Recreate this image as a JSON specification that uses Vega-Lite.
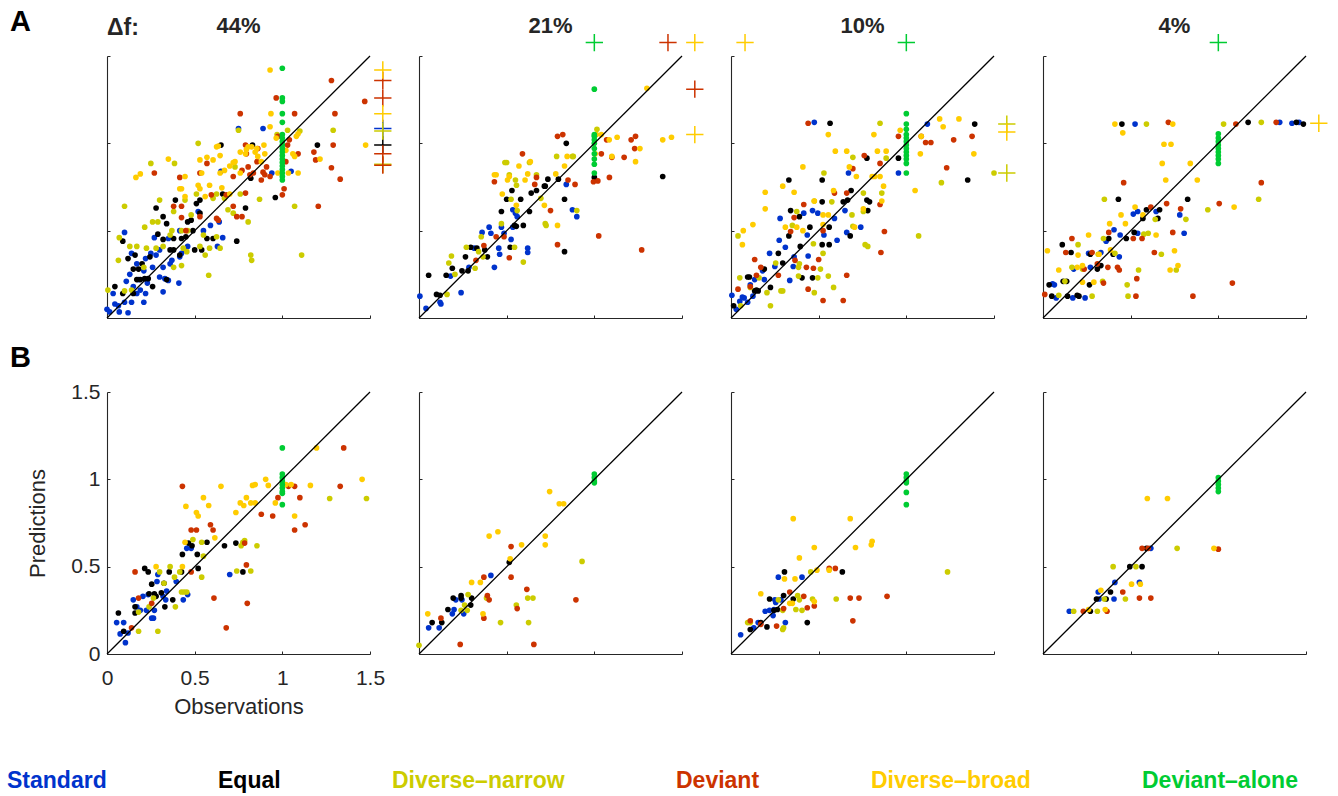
{
"$schema":"https://vega.github.io/schema/vega-lite/v6.json",
"background":"white",
"autosize":{"type":"none"},
"padding":{"left":107,"top":56,"right":1231,"bottom":740},
"bounds":"flush",
"columns":4,
"spacing":{"row":74,"column":49},
"config":{"view":{"stroke":null},"font":"Liberation Sans",
"axis":{"grid":false,"domainColor":"#262626","domainWidth":1.1,"tickColor":"#262626","tickWidth":1,"tickSize":-3,"labelColor":"#262626","labelFontSize":21,"labelFlush":false,"labelFont":"Liberation Sans","titleFont":"Liberation Sans","titleFontSize":22,"titleFontWeight":"normal","titleColor":"#262626","format":"~g"}},
"concat":[
{"width":263,"height":262,"data":{"name":"a1"},
"layer":[
{"transform":[{"filter":"datum.x<=1.5 && datum.y<=1.5"}],"mark":{"type":"circle","size":32,"opacity":1},"encoding":{
"x":{"field":"x","type":"quantitative","scale":{"domain":[0,1.5],"nice":false,"zero":false},"axis":{"values":[0,0.5,1,1.5],"labels":false,"title":null}},
"y":{"field":"y","type":"quantitative","scale":{"domain":[0,1.5],"nice":false,"zero":false},"axis":{"values":[0,0.5,1,1.5],"labels":false,"title":null}},
"color":{"field":"g","type":"nominal","scale":{"domain":["S","E","N","D","B","G"],"range":["#0033cc","#000000","#cccc00","#cc3300","#ffcc00","#00cc33"]},
"legend":{"orient":"none","legendX":-123,"legendY":713,"direction":"horizontal","title":null,"symbolSize":0,"symbolStrokeWidth":0,"symbolOpacity":0,"labelOffset":0,"columnPadding":88,"padding":0,"labelFont":"Liberation Sans","labelFontSize":23,"labelFontWeight":"bold","labelLimit":400,
"labelExpr":"{'S':'Standard','E':'Equal','N':'Diverse–narrow','D':'Deviant','B':'Diverse–broad','G':'Deviant–alone'}[datum.label]",
"encode":{"labels":{"update":{"fill":{"scale":"color","field":"value"}}}}}}}},
{"transform":[{"filter":"datum.x>1.5 || datum.y>1.5"}],"mark":{"type":"point","shape":"M-1,0L1,0M0,-1L0,1","filled":false,"size":300,"strokeWidth":1.5,"opacity":1},"encoding":{
"x":{"field":"x","type":"quantitative","scale":{"domain":[0,1.5],"nice":false,"zero":false},"axis":{"values":[0,0.5,1,1.5],"labels":false,"title":null}},
"y":{"field":"y","type":"quantitative","scale":{"domain":[0,1.5],"nice":false,"zero":false},"axis":{"values":[0,0.5,1,1.5],"labels":false,"title":null}},
"color":{"field":"g","type":"nominal","legend":null}}},
{"data":{"values":[{}]},"mark":{"type":"rule","color":"black","strokeWidth":1.3},"encoding":{
"x":{"datum":0,"type":"quantitative","scale":{"domain":[0,1.5],"nice":false,"zero":false},"axis":{"values":[0,0.5,1,1.5],"labels":false,"title":null}},
"y":{"datum":0,"type":"quantitative","scale":{"domain":[0,1.5],"nice":false,"zero":false},"axis":{"values":[0,0.5,1,1.5],"labels":false,"title":null}},
"x2":{"datum":1.5},"y2":{"datum":1.5}}},
{"data":{"values":[{}]},"mark":{"type":"text","text":"44%","fontSize":22,"fontWeight":"bold","color":"#262626","align":"center","baseline":"alphabetic"},"encoding":{"x":{"datum":0.75,"type":"quantitative"},"y":{"datum":1.632,"type":"quantitative"}}},
{"data":{"values":[{}]},"mark":{"type":"text","text":"A","fontSize":29,"fontWeight":"bold","color":"black","align":"left","baseline":"alphabetic"},"encoding":{"x":{"datum":-0.553,"type":"quantitative"},"y":{"datum":1.643,"type":"quantitative"}}},
{"data":{"values":[{}]},"mark":{"type":"text","text":"Δf:","fontSize":23,"fontWeight":"bold","color":"#262626","align":"left","baseline":"alphabetic"},"encoding":{"x":{"datum":0,"type":"quantitative"},"y":{"datum":1.62,"type":"quantitative"}}}
]},
{"width":263,"height":262,"data":{"name":"a2"},
"layer":[
{"transform":[{"filter":"datum.x<=1.5 && datum.y<=1.5"}],"mark":{"type":"circle","size":32,"opacity":1},"encoding":{
"x":{"field":"x","type":"quantitative","scale":{"domain":[0,1.5],"nice":false,"zero":false},"axis":{"values":[0,0.5,1,1.5],"labels":false,"title":null}},
"y":{"field":"y","type":"quantitative","scale":{"domain":[0,1.5],"nice":false,"zero":false},"axis":{"values":[0,0.5,1,1.5],"labels":false,"title":null}},
"color":{"field":"g","type":"nominal","legend":null}}},
{"transform":[{"filter":"datum.x>1.5 || datum.y>1.5"}],"mark":{"type":"point","shape":"M-1,0L1,0M0,-1L0,1","filled":false,"size":300,"strokeWidth":1.5,"opacity":1},"encoding":{
"x":{"field":"x","type":"quantitative","scale":{"domain":[0,1.5],"nice":false,"zero":false},"axis":{"values":[0,0.5,1,1.5],"labels":false,"title":null}},
"y":{"field":"y","type":"quantitative","scale":{"domain":[0,1.5],"nice":false,"zero":false},"axis":{"values":[0,0.5,1,1.5],"labels":false,"title":null}},
"color":{"field":"g","type":"nominal","legend":null}}},
{"data":{"values":[{}]},"mark":{"type":"rule","color":"black","strokeWidth":1.3},"encoding":{
"x":{"datum":0,"type":"quantitative","scale":{"domain":[0,1.5],"nice":false,"zero":false},"axis":{"values":[0,0.5,1,1.5],"labels":false,"title":null}},
"y":{"datum":0,"type":"quantitative","scale":{"domain":[0,1.5],"nice":false,"zero":false},"axis":{"values":[0,0.5,1,1.5],"labels":false,"title":null}},
"x2":{"datum":1.5},"y2":{"datum":1.5}}},
{"data":{"values":[{}]},"mark":{"type":"text","text":"21%","fontSize":22,"fontWeight":"bold","color":"#262626","align":"center","baseline":"alphabetic"},"encoding":{"x":{"datum":0.75,"type":"quantitative"},"y":{"datum":1.632,"type":"quantitative"}}}
]},
{"width":263,"height":262,"data":{"name":"a3"},
"layer":[
{"transform":[{"filter":"datum.x<=1.5 && datum.y<=1.5"}],"mark":{"type":"circle","size":32,"opacity":1},"encoding":{
"x":{"field":"x","type":"quantitative","scale":{"domain":[0,1.5],"nice":false,"zero":false},"axis":{"values":[0,0.5,1,1.5],"labels":false,"title":null}},
"y":{"field":"y","type":"quantitative","scale":{"domain":[0,1.5],"nice":false,"zero":false},"axis":{"values":[0,0.5,1,1.5],"labels":false,"title":null}},
"color":{"field":"g","type":"nominal","legend":null}}},
{"transform":[{"filter":"datum.x>1.5 || datum.y>1.5"}],"mark":{"type":"point","shape":"M-1,0L1,0M0,-1L0,1","filled":false,"size":300,"strokeWidth":1.5,"opacity":1},"encoding":{
"x":{"field":"x","type":"quantitative","scale":{"domain":[0,1.5],"nice":false,"zero":false},"axis":{"values":[0,0.5,1,1.5],"labels":false,"title":null}},
"y":{"field":"y","type":"quantitative","scale":{"domain":[0,1.5],"nice":false,"zero":false},"axis":{"values":[0,0.5,1,1.5],"labels":false,"title":null}},
"color":{"field":"g","type":"nominal","legend":null}}},
{"data":{"values":[{}]},"mark":{"type":"rule","color":"black","strokeWidth":1.3},"encoding":{
"x":{"datum":0,"type":"quantitative","scale":{"domain":[0,1.5],"nice":false,"zero":false},"axis":{"values":[0,0.5,1,1.5],"labels":false,"title":null}},
"y":{"datum":0,"type":"quantitative","scale":{"domain":[0,1.5],"nice":false,"zero":false},"axis":{"values":[0,0.5,1,1.5],"labels":false,"title":null}},
"x2":{"datum":1.5},"y2":{"datum":1.5}}},
{"data":{"values":[{}]},"mark":{"type":"text","text":"10%","fontSize":22,"fontWeight":"bold","color":"#262626","align":"center","baseline":"alphabetic"},"encoding":{"x":{"datum":0.75,"type":"quantitative"},"y":{"datum":1.632,"type":"quantitative"}}}
]},
{"width":263,"height":262,"data":{"name":"a4"},
"layer":[
{"transform":[{"filter":"datum.x<=1.5 && datum.y<=1.5"}],"mark":{"type":"circle","size":32,"opacity":1},"encoding":{
"x":{"field":"x","type":"quantitative","scale":{"domain":[0,1.5],"nice":false,"zero":false},"axis":{"values":[0,0.5,1,1.5],"labels":false,"title":null}},
"y":{"field":"y","type":"quantitative","scale":{"domain":[0,1.5],"nice":false,"zero":false},"axis":{"values":[0,0.5,1,1.5],"labels":false,"title":null}},
"color":{"field":"g","type":"nominal","legend":null}}},
{"transform":[{"filter":"datum.x>1.5 || datum.y>1.5"}],"mark":{"type":"point","shape":"M-1,0L1,0M0,-1L0,1","filled":false,"size":300,"strokeWidth":1.5,"opacity":1},"encoding":{
"x":{"field":"x","type":"quantitative","scale":{"domain":[0,1.5],"nice":false,"zero":false},"axis":{"values":[0,0.5,1,1.5],"labels":false,"title":null}},
"y":{"field":"y","type":"quantitative","scale":{"domain":[0,1.5],"nice":false,"zero":false},"axis":{"values":[0,0.5,1,1.5],"labels":false,"title":null}},
"color":{"field":"g","type":"nominal","legend":null}}},
{"data":{"values":[{}]},"mark":{"type":"rule","color":"black","strokeWidth":1.3},"encoding":{
"x":{"datum":0,"type":"quantitative","scale":{"domain":[0,1.5],"nice":false,"zero":false},"axis":{"values":[0,0.5,1,1.5],"labels":false,"title":null}},
"y":{"datum":0,"type":"quantitative","scale":{"domain":[0,1.5],"nice":false,"zero":false},"axis":{"values":[0,0.5,1,1.5],"labels":false,"title":null}},
"x2":{"datum":1.5},"y2":{"datum":1.5}}},
{"data":{"values":[{}]},"mark":{"type":"text","text":"4%","fontSize":22,"fontWeight":"bold","color":"#262626","align":"center","baseline":"alphabetic"},"encoding":{"x":{"datum":0.75,"type":"quantitative"},"y":{"datum":1.632,"type":"quantitative"}}}
]},
{"width":263,"height":262,"data":{"name":"b1"},
"layer":[
{"mark":{"type":"circle","size":32,"opacity":1},"encoding":{
"x":{"field":"x","type":"quantitative","scale":{"domain":[0,1.5],"nice":false,"zero":false},"axis":{"values":[0,0.5,1,1.5],"title":"Observations","labelPadding":16,"titlePadding":8}},
"y":{"field":"y","type":"quantitative","scale":{"domain":[0,1.5],"nice":false,"zero":false},"axis":{"values":[0,0.5,1,1.5],"title":"Predictions","labelPadding":10,"titlePadding":21}},
"color":{"field":"g","type":"nominal","legend":null}}},
{"data":{"values":[{}]},"mark":{"type":"rule","color":"black","strokeWidth":1.3},"encoding":{
"x":{"datum":0,"type":"quantitative","scale":{"domain":[0,1.5],"nice":false,"zero":false},"axis":{"values":[0,0.5,1,1.5],"title":"Observations","labelPadding":16,"titlePadding":8}},
"y":{"datum":0,"type":"quantitative","scale":{"domain":[0,1.5],"nice":false,"zero":false},"axis":{"values":[0,0.5,1,1.5],"title":"Predictions","labelPadding":10,"titlePadding":21}},
"x2":{"datum":1.5},"y2":{"datum":1.5}}},
{"data":{"values":[{}]},"mark":{"type":"text","text":"B","fontSize":29,"fontWeight":"bold","color":"black","align":"left","baseline":"alphabetic"},"encoding":{"x":{"datum":-0.553,"type":"quantitative"},"y":{"datum":1.643,"type":"quantitative"}}}
]},
{"width":263,"height":262,"data":{"name":"b2"},
"layer":[
{"mark":{"type":"circle","size":32,"opacity":1},"encoding":{
"x":{"field":"x","type":"quantitative","scale":{"domain":[0,1.5],"nice":false,"zero":false},"axis":{"values":[0,0.5,1,1.5],"labels":false,"title":null}},
"y":{"field":"y","type":"quantitative","scale":{"domain":[0,1.5],"nice":false,"zero":false},"axis":{"values":[0,0.5,1,1.5],"labels":false,"title":null}},
"color":{"field":"g","type":"nominal","legend":null}}},
{"data":{"values":[{}]},"mark":{"type":"rule","color":"black","strokeWidth":1.3},"encoding":{
"x":{"datum":0,"type":"quantitative","scale":{"domain":[0,1.5],"nice":false,"zero":false},"axis":{"values":[0,0.5,1,1.5],"labels":false,"title":null}},
"y":{"datum":0,"type":"quantitative","scale":{"domain":[0,1.5],"nice":false,"zero":false},"axis":{"values":[0,0.5,1,1.5],"labels":false,"title":null}},
"x2":{"datum":1.5},"y2":{"datum":1.5}}}
]},
{"width":263,"height":262,"data":{"name":"b3"},
"layer":[
{"mark":{"type":"circle","size":32,"opacity":1},"encoding":{
"x":{"field":"x","type":"quantitative","scale":{"domain":[0,1.5],"nice":false,"zero":false},"axis":{"values":[0,0.5,1,1.5],"labels":false,"title":null}},
"y":{"field":"y","type":"quantitative","scale":{"domain":[0,1.5],"nice":false,"zero":false},"axis":{"values":[0,0.5,1,1.5],"labels":false,"title":null}},
"color":{"field":"g","type":"nominal","legend":null}}},
{"data":{"values":[{}]},"mark":{"type":"rule","color":"black","strokeWidth":1.3},"encoding":{
"x":{"datum":0,"type":"quantitative","scale":{"domain":[0,1.5],"nice":false,"zero":false},"axis":{"values":[0,0.5,1,1.5],"labels":false,"title":null}},
"y":{"datum":0,"type":"quantitative","scale":{"domain":[0,1.5],"nice":false,"zero":false},"axis":{"values":[0,0.5,1,1.5],"labels":false,"title":null}},
"x2":{"datum":1.5},"y2":{"datum":1.5}}}
]},
{"width":263,"height":262,"data":{"name":"b4"},
"layer":[
{"mark":{"type":"circle","size":32,"opacity":1},"encoding":{
"x":{"field":"x","type":"quantitative","scale":{"domain":[0,1.5],"nice":false,"zero":false},"axis":{"values":[0,0.5,1,1.5],"labels":false,"title":null}},
"y":{"field":"y","type":"quantitative","scale":{"domain":[0,1.5],"nice":false,"zero":false},"axis":{"values":[0,0.5,1,1.5],"labels":false,"title":null}},
"color":{"field":"g","type":"nominal","legend":null}}},
{"data":{"values":[{}]},"mark":{"type":"rule","color":"black","strokeWidth":1.3},"encoding":{
"x":{"datum":0,"type":"quantitative","scale":{"domain":[0,1.5],"nice":false,"zero":false},"axis":{"values":[0,0.5,1,1.5],"labels":false,"title":null}},
"y":{"datum":0,"type":"quantitative","scale":{"domain":[0,1.5],"nice":false,"zero":false},"axis":{"values":[0,0.5,1,1.5],"labels":false,"title":null}},
"x2":{"datum":1.5},"y2":{"datum":1.5}}}
]}
],
"datasets":{
"a1":[
{"g":"S","x":0,"y":0.05},{"g":"S","x":0.015,"y":0.035},{"g":"S","x":0.035,"y":0.14},{"g":"S","x":0.045,"y":0.08},{"g":"S","x":0.065,"y":0.07},{"g":"S","x":0.07,"y":0.035},{"g":"S","x":0.1,"y":0.09},{"g":"S","x":0.12,"y":0.03},{"g":"S","x":0.14,"y":0.09},{"g":"S","x":0.15,"y":0.18},{"g":"S","x":0.17,"y":0.14},{"g":"S","x":0.19,"y":0.16},{"g":"S","x":0.21,"y":0.09},{"g":"S","x":0.22,"y":0.14},{"g":"S","x":0.23,"y":0.2},{"g":"S","x":0.11,"y":0.21},{"g":"S","x":0.13,"y":0.25},{"g":"S","x":0.14,"y":0.37},{"g":"S","x":0.17,"y":0.31},{"g":"S","x":0.18,"y":0.22},{"g":"S","x":0.21,"y":0.27},{"g":"S","x":0.22,"y":0.34},{"g":"S","x":0.25,"y":0.37},{"g":"S","x":0.26,"y":0.29},{"g":"S","x":0.28,"y":0.36},{"g":"S","x":0.3,"y":0.235},{"g":"S","x":0.32,"y":0.15},{"g":"S","x":0.32,"y":0.29},{"g":"S","x":0.33,"y":0.225},{"g":"S","x":0.35,"y":0.215},{"g":"S","x":0.36,"y":0.31},{"g":"S","x":0.37,"y":0.33},{"g":"S","x":0.41,"y":0.2},{"g":"S","x":0.415,"y":0.35},{"g":"S","x":0.425,"y":0.37},{"g":"S","x":0.445,"y":0.39},{"g":"S","x":0.46,"y":0.41},{"g":"S","x":0.3,"y":0.39},{"g":"S","x":0.27,"y":0.46},{"g":"S","x":0.35,"y":0.455},{"g":"S","x":0.415,"y":0.5},{"g":"S","x":0.52,"y":0.61},{"g":"S","x":0.55,"y":0.5},{"g":"S","x":0.59,"y":0.53},{"g":"S","x":0.64,"y":0.55},{"g":"S","x":0.66,"y":0.46},{"g":"S","x":0.63,"y":0.41},{"g":"S","x":0.1,"y":0.49},{"g":"S","x":0.75,"y":1.085},{"g":"S","x":0.89,"y":1.085},{"g":"S","x":0.65,"y":0.84},{"g":"S","x":0.94,"y":0.83},{"g":"S","x":1.05,"y":0.84},{"g":"S","x":1.573,"y":1.085},
{"g":"E","x":0.045,"y":0.18},{"g":"E","x":0.09,"y":0.44},{"g":"E","x":0.12,"y":0.34},{"g":"E","x":0.15,"y":0.28},{"g":"E","x":0.16,"y":0.36},{"g":"E","x":0.17,"y":0.22},{"g":"E","x":0.18,"y":0.28},{"g":"E","x":0.19,"y":0.22},{"g":"E","x":0.2,"y":0.31},{"g":"E","x":0.215,"y":0.225},{"g":"E","x":0.235,"y":0.225},{"g":"E","x":0.245,"y":0.35},{"g":"E","x":0.26,"y":0.18},{"g":"E","x":0.28,"y":0.63},{"g":"E","x":0.29,"y":0.48},{"g":"E","x":0.32,"y":0.58},{"g":"E","x":0.32,"y":0.45},{"g":"E","x":0.34,"y":0.54},{"g":"E","x":0.34,"y":0.22},{"g":"E","x":0.36,"y":0.39},{"g":"E","x":0.38,"y":0.39},{"g":"E","x":0.38,"y":0.455},{"g":"E","x":0.39,"y":0.675},{"g":"E","x":0.415,"y":0.36},{"g":"E","x":0.425,"y":0.455},{"g":"E","x":0.45,"y":0.465},{"g":"E","x":0.46,"y":0.55},{"g":"E","x":0.48,"y":0.56},{"g":"E","x":0.49,"y":0.5},{"g":"E","x":0.5,"y":0.39},{"g":"E","x":0.51,"y":0.655},{"g":"E","x":0.53,"y":0.675},{"g":"E","x":0.53,"y":0.6},{"g":"E","x":0.54,"y":0.39},{"g":"E","x":0.57,"y":0.455},{"g":"E","x":0.605,"y":0.455},{"g":"E","x":0.65,"y":0.99},{"g":"E","x":0.66,"y":0.71},{"g":"E","x":0.74,"y":0.44},{"g":"E","x":0.79,"y":0.63},{"g":"E","x":0.82,"y":0.8},{"g":"E","x":0.83,"y":0.99},{"g":"E","x":0.96,"y":0.69},{"g":"E","x":1.2,"y":0.99},{"g":"E","x":0.09,"y":0.14},{"g":"E","x":0.15,"y":0.14},{"g":"E","x":1.573,"y":0.99},
{"g":"N","x":0.005,"y":0.16},{"g":"N","x":0.065,"y":0.33},{"g":"N","x":0.07,"y":0.46},{"g":"N","x":0.1,"y":0.64},{"g":"N","x":0.13,"y":0.41},{"g":"N","x":0.14,"y":0.16},{"g":"N","x":0.1,"y":0.155},{"g":"N","x":0.17,"y":0.41},{"g":"N","x":0.21,"y":0.29},{"g":"N","x":0.215,"y":0.52},{"g":"N","x":0.225,"y":0.4},{"g":"N","x":0.25,"y":0.885},{"g":"N","x":0.26,"y":0.55},{"g":"N","x":0.28,"y":0.4},{"g":"N","x":0.29,"y":0.55},{"g":"N","x":0.3,"y":0.675},{"g":"N","x":0.32,"y":0.41},{"g":"N","x":0.36,"y":0.475},{"g":"N","x":0.37,"y":0.5},{"g":"N","x":0.38,"y":0.61},{"g":"N","x":0.385,"y":0.885},{"g":"N","x":0.425,"y":0.5},{"g":"N","x":0.435,"y":0.4},{"g":"N","x":0.445,"y":0.675},{"g":"N","x":0.46,"y":0.5},{"g":"N","x":0.48,"y":0.59},{"g":"N","x":0.51,"y":0.71},{"g":"N","x":0.52,"y":1.0},{"g":"N","x":0.53,"y":0.41},{"g":"N","x":0.55,"y":0.475},{"g":"N","x":0.56,"y":0.36},{"g":"N","x":0.58,"y":0.245},{"g":"N","x":0.585,"y":0.4},{"g":"N","x":0.605,"y":0.685},{"g":"N","x":0.625,"y":0.465},{"g":"N","x":0.645,"y":0.4},{"g":"N","x":0.67,"y":0.685},{"g":"N","x":0.69,"y":0.62},{"g":"N","x":0.72,"y":0.6},{"g":"N","x":0.73,"y":0.865},{"g":"N","x":0.75,"y":1.075},{"g":"N","x":0.76,"y":0.71},{"g":"N","x":0.805,"y":0.55},{"g":"N","x":0.82,"y":0.36},{"g":"N","x":0.825,"y":0.33},{"g":"N","x":0.87,"y":0.68},{"g":"N","x":0.97,"y":1.05},{"g":"N","x":1.03,"y":1.075},{"g":"N","x":1.07,"y":0.64},{"g":"N","x":1.1,"y":1.07},{"g":"N","x":1.11,"y":0.36},{"g":"N","x":1.29,"y":1.075},{"g":"N","x":0.455,"y":0.38},{"g":"N","x":0.38,"y":0.29},{"g":"N","x":0.425,"y":0.3},{"g":"N","x":0.625,"y":0.71},{"g":"N","x":1.573,"y":1.07},{"g":"N","x":1.573,"y":0.88},
{"g":"D","x":0.27,"y":0.83},{"g":"D","x":0.415,"y":0.805},{"g":"D","x":0.38,"y":0.64},{"g":"D","x":0.425,"y":0.64},{"g":"D","x":0.425,"y":0.575},{"g":"D","x":0.45,"y":0.5},{"g":"D","x":0.53,"y":0.58},{"g":"D","x":0.57,"y":0.885},{"g":"D","x":0.53,"y":0.83},{"g":"D","x":0.595,"y":0.705},{"g":"D","x":0.625,"y":0.57},{"g":"D","x":0.68,"y":0.705},{"g":"D","x":0.72,"y":0.64},{"g":"D","x":0.74,"y":0.58},{"g":"D","x":0.77,"y":0.58},{"g":"D","x":0.79,"y":0.715},{"g":"D","x":0.76,"y":1.17},{"g":"D","x":0.79,"y":0.99},{"g":"D","x":0.795,"y":0.94},{"g":"D","x":0.805,"y":0.865},{"g":"D","x":0.815,"y":0.82},{"g":"D","x":0.835,"y":0.83},{"g":"D","x":0.855,"y":0.895},{"g":"D","x":0.86,"y":0.97},{"g":"D","x":0.88,"y":0.79},{"g":"D","x":0.89,"y":0.835},{"g":"D","x":0.9,"y":0.82},{"g":"D","x":0.91,"y":0.865},{"g":"D","x":0.93,"y":0.81},{"g":"D","x":0.965,"y":1.26},{"g":"D","x":0.975,"y":1.04},{"g":"D","x":1.0,"y":0.705},{"g":"D","x":1.01,"y":0.74},{"g":"D","x":1.02,"y":0.895},{"g":"D","x":1.03,"y":0.99},{"g":"D","x":1.04,"y":1.02},{"g":"D","x":1.07,"y":1.17},{"g":"D","x":1.09,"y":0.94},{"g":"D","x":1.18,"y":0.95},{"g":"D","x":1.19,"y":0.905},{"g":"D","x":1.205,"y":0.64},{"g":"D","x":1.28,"y":1.36},{"g":"D","x":1.28,"y":0.86},{"g":"D","x":1.29,"y":0.99},{"g":"D","x":1.3,"y":1.17},{"g":"D","x":1.33,"y":0.795},{"g":"D","x":1.47,"y":1.24},{"g":"D","x":0.72,"y":0.81},{"g":"D","x":0.77,"y":0.845},{"g":"D","x":0.635,"y":0.56},{"g":"D","x":1.573,"y":1.36},{"g":"D","x":1.573,"y":1.26},{"g":"D","x":1.573,"y":0.94},{"g":"D","x":1.573,"y":0.875},
{"g":"B","x":0.165,"y":0.805},{"g":"B","x":0.19,"y":0.825},{"g":"B","x":0.35,"y":0.91},{"g":"B","x":0.445,"y":0.81},{"g":"B","x":0.415,"y":0.74},{"g":"B","x":0.425,"y":0.74},{"g":"B","x":0.445,"y":0.695},{"g":"B","x":0.52,"y":0.76},{"g":"B","x":0.53,"y":0.905},{"g":"B","x":0.54,"y":0.83},{"g":"B","x":0.57,"y":0.92},{"g":"B","x":0.56,"y":0.695},{"g":"B","x":0.585,"y":0.76},{"g":"B","x":0.605,"y":0.905},{"g":"B","x":0.625,"y":0.98},{"g":"B","x":0.635,"y":0.985},{"g":"B","x":0.645,"y":0.93},{"g":"B","x":0.645,"y":0.83},{"g":"B","x":0.655,"y":0.745},{"g":"B","x":0.67,"y":0.845},{"g":"B","x":0.7,"y":0.87},{"g":"B","x":0.72,"y":0.89},{"g":"B","x":0.73,"y":0.895},{"g":"B","x":0.76,"y":0.83},{"g":"B","x":0.79,"y":0.94},{"g":"B","x":0.795,"y":0.965},{"g":"B","x":0.805,"y":0.98},{"g":"B","x":0.825,"y":0.98},{"g":"B","x":0.845,"y":0.95},{"g":"B","x":0.855,"y":0.97},{"g":"B","x":0.86,"y":0.925},{"g":"B","x":0.88,"y":0.895},{"g":"B","x":0.895,"y":0.99},{"g":"B","x":0.9,"y":0.94},{"g":"B","x":0.93,"y":1.095},{"g":"B","x":0.935,"y":1.17},{"g":"B","x":0.965,"y":1.03},{"g":"B","x":0.975,"y":0.83},{"g":"B","x":1.02,"y":0.96},{"g":"B","x":1.035,"y":0.83},{"g":"B","x":1.06,"y":0.94},{"g":"B","x":1.07,"y":0.925},{"g":"B","x":1.08,"y":1.04},{"g":"B","x":1.09,"y":1.055},{"g":"B","x":1.09,"y":0.83},{"g":"B","x":1.215,"y":0.91},{"g":"B","x":1.475,"y":0.99},{"g":"B","x":0.93,"y":1.42},{"g":"B","x":0.7,"y":0.71},{"g":"B","x":0.53,"y":0.74},{"g":"B","x":0.76,"y":0.95},{"g":"B","x":1.573,"y":1.42},{"g":"B","x":1.573,"y":1.17},
{"g":"G","x":1,"y":1.43},{"g":"G","x":1,"y":1.26},{"g":"G","x":1,"y":1.24},{"g":"G","x":1,"y":1.17},{"g":"G","x":1,"y":1.12},{"g":"G","x":1,"y":1.05},{"g":"G","x":1,"y":1.03},{"g":"G","x":1,"y":1.01},{"g":"G","x":1,"y":0.99},{"g":"G","x":1,"y":0.97},{"g":"G","x":1,"y":0.95},{"g":"G","x":1,"y":0.93},{"g":"G","x":1,"y":0.91},{"g":"G","x":1,"y":0.89},{"g":"G","x":1,"y":0.87},{"g":"G","x":1,"y":0.85},{"g":"G","x":1,"y":0.83},{"g":"G","x":1,"y":0.81},{"g":"G","x":1,"y":0.79}
],
"a2":[
{"g":"S","x":0.005,"y":0.125},{"g":"S","x":0.04,"y":0.055},{"g":"S","x":0.12,"y":0.09},{"g":"S","x":0.125,"y":0.08},{"g":"S","x":0.18,"y":0.24},{"g":"S","x":0.24,"y":0.145},{"g":"S","x":0.285,"y":0.29},{"g":"S","x":0.315,"y":0.4},{"g":"S","x":0.36,"y":0.49},{"g":"S","x":0.4,"y":0.52},{"g":"S","x":0.41,"y":0.485},{"g":"S","x":0.43,"y":0.29},{"g":"S","x":0.455,"y":0.4},{"g":"S","x":0.46,"y":0.365},{"g":"S","x":0.47,"y":0.52},{"g":"S","x":0.485,"y":0.485},{"g":"S","x":0.525,"y":0.45},{"g":"S","x":0.535,"y":0.52},{"g":"S","x":0.535,"y":0.62},{"g":"S","x":0.55,"y":0.6},{"g":"S","x":0.56,"y":0.58},{"g":"S","x":0.62,"y":0.4},{"g":"S","x":0.62,"y":0.375},{"g":"S","x":0.84,"y":0.765},{"g":"S","x":0.875,"y":0.62},{"g":"S","x":0.9,"y":0.58},
{"g":"E","x":0.055,"y":0.245},{"g":"E","x":0.1,"y":0.135},{"g":"E","x":0.12,"y":0.13},{"g":"E","x":0.155,"y":0.245},{"g":"E","x":0.19,"y":0.285},{"g":"E","x":0.245,"y":0.27},{"g":"E","x":0.265,"y":0.35},{"g":"E","x":0.28,"y":0.27},{"g":"E","x":0.295,"y":0.405},{"g":"E","x":0.33,"y":0.4},{"g":"E","x":0.375,"y":0.39},{"g":"E","x":0.39,"y":0.35},{"g":"E","x":0.47,"y":0.61},{"g":"E","x":0.5,"y":0.68},{"g":"E","x":0.52,"y":0.405},{"g":"E","x":0.53,"y":0.73},{"g":"E","x":0.545,"y":0.53},{"g":"E","x":0.555,"y":0.525},{"g":"E","x":0.58,"y":0.68},{"g":"E","x":0.595,"y":0.53},{"g":"E","x":0.63,"y":0.61},{"g":"E","x":0.64,"y":0.715},{"g":"E","x":0.67,"y":0.73},{"g":"E","x":0.715,"y":0.755},{"g":"E","x":0.72,"y":0.755},{"g":"E","x":0.735,"y":0.795},{"g":"E","x":0.795,"y":0.795},{"g":"E","x":0.83,"y":0.68},{"g":"E","x":0.83,"y":0.38},{"g":"E","x":0.84,"y":1.0},{"g":"E","x":1.0,"y":0.805},{"g":"E","x":1.39,"y":0.81},
{"g":"N","x":0.16,"y":0.135},{"g":"N","x":0.17,"y":0.315},{"g":"N","x":0.185,"y":0.355},{"g":"N","x":0.205,"y":0.25},{"g":"N","x":0.27,"y":0.405},{"g":"N","x":0.32,"y":0.285},{"g":"N","x":0.34,"y":0.38},{"g":"N","x":0.355,"y":0.465},{"g":"N","x":0.365,"y":0.35},{"g":"N","x":0.47,"y":0.54},{"g":"N","x":0.49,"y":0.89},{"g":"N","x":0.5,"y":0.89},{"g":"N","x":0.515,"y":0.82},{"g":"N","x":0.525,"y":0.68},{"g":"N","x":0.545,"y":0.405},{"g":"N","x":0.55,"y":0.79},{"g":"N","x":0.556,"y":0.76},{"g":"N","x":0.56,"y":0.615},{"g":"N","x":0.595,"y":0.32},{"g":"N","x":0.63,"y":0.89},{"g":"N","x":0.67,"y":0.82},{"g":"N","x":0.695,"y":0.685},{"g":"N","x":0.72,"y":0.54},{"g":"N","x":0.725,"y":0.53},{"g":"N","x":0.785,"y":0.925},{"g":"N","x":0.875,"y":0.925},{"g":"N","x":0.88,"y":0.925},{"g":"N","x":0.9,"y":0.615},{"g":"N","x":1.015,"y":1.08},{"g":"N","x":1.01,"y":1.05},
{"g":"D","x":0.325,"y":0.33},{"g":"D","x":0.37,"y":0.415},{"g":"D","x":0.44,"y":0.465},{"g":"D","x":0.485,"y":0.465},{"g":"D","x":0.515,"y":0.345},{"g":"D","x":0.43,"y":0.78},{"g":"D","x":0.59,"y":0.94},{"g":"D","x":0.66,"y":0.765},{"g":"D","x":0.67,"y":0.805},{"g":"D","x":0.75,"y":0.615},{"g":"D","x":0.79,"y":1.04},{"g":"D","x":0.79,"y":0.42},{"g":"D","x":0.82,"y":1.05},{"g":"D","x":0.85,"y":0.79},{"g":"D","x":0.89,"y":0.765},{"g":"D","x":0.995,"y":0.78},{"g":"D","x":1.02,"y":0.785},{"g":"D","x":1.025,"y":0.47},{"g":"D","x":1.04,"y":0.94},{"g":"D","x":1.07,"y":1.02},{"g":"D","x":1.086,"y":0.805},{"g":"D","x":1.1,"y":0.92},{"g":"D","x":1.17,"y":0.92},{"g":"D","x":1.21,"y":1.02},{"g":"D","x":1.23,"y":0.97},{"g":"D","x":1.235,"y":1.04},{"g":"D","x":1.27,"y":0.39},{"g":"D","x":1.42,"y":1.577},{"g":"D","x":1.573,"y":1.31},
{"g":"B","x":0.43,"y":0.82},{"g":"B","x":0.44,"y":0.82},{"g":"B","x":0.475,"y":0.71},{"g":"B","x":0.505,"y":0.79},{"g":"B","x":0.515,"y":0.81},{"g":"B","x":0.57,"y":0.87},{"g":"B","x":0.605,"y":0.79},{"g":"B","x":0.62,"y":0.825},{"g":"B","x":0.555,"y":0.645},{"g":"B","x":0.635,"y":0.895},{"g":"B","x":0.715,"y":0.645},{"g":"B","x":0.78,"y":0.825},{"g":"B","x":0.79,"y":0.53},{"g":"B","x":0.83,"y":0.87},{"g":"B","x":0.845,"y":0.925},{"g":"B","x":1.005,"y":0.94},{"g":"B","x":1.01,"y":1.05},{"g":"B","x":1.04,"y":1.05},{"g":"B","x":1.085,"y":1.02},{"g":"B","x":1.1,"y":0.925},{"g":"B","x":1.13,"y":1.035},{"g":"B","x":1.235,"y":0.895},{"g":"B","x":1.26,"y":0.97},{"g":"B","x":1.3,"y":1.315},{"g":"B","x":1.39,"y":1.02},{"g":"B","x":1.44,"y":1.035},{"g":"B","x":1.573,"y":1.577},{"g":"B","x":1.573,"y":1.05},
{"g":"G","x":1,"y":1.31},{"g":"G","x":1,"y":1.05},{"g":"G","x":1,"y":1.04},{"g":"G","x":1,"y":1.02},{"g":"G","x":1,"y":1.0},{"g":"G","x":1,"y":0.97},{"g":"G","x":1,"y":0.94},{"g":"G","x":1,"y":0.91},{"g":"G","x":1,"y":0.88},{"g":"G","x":1,"y":0.83},{"g":"G","x":1,"y":1.577}
],
"a3":[
{"g":"S","x":0.005,"y":0.13},{"g":"S","x":0.03,"y":0.05},{"g":"S","x":0.05,"y":0.095},{"g":"S","x":0.065,"y":0.12},{"g":"S","x":0.075,"y":0.115},{"g":"S","x":0.095,"y":0.09},{"g":"S","x":0.11,"y":0.19},{"g":"S","x":0.125,"y":0.125},{"g":"S","x":0.135,"y":0.22},{"g":"S","x":0.18,"y":0.27},{"g":"S","x":0.19,"y":0.22},{"g":"S","x":0.22,"y":0.37},{"g":"S","x":0.25,"y":0.295},{"g":"S","x":0.275,"y":0.445},{"g":"S","x":0.28,"y":0.57},{"g":"S","x":0.31,"y":0.405},{"g":"S","x":0.335,"y":0.215},{"g":"S","x":0.355,"y":0.295},{"g":"S","x":0.36,"y":0.35},{"g":"S","x":0.415,"y":0.6},{"g":"S","x":0.435,"y":0.475},{"g":"S","x":0.44,"y":0.355},{"g":"S","x":0.465,"y":0.615},{"g":"S","x":0.475,"y":1.12},{"g":"S","x":0.495,"y":0.6},{"g":"S","x":0.53,"y":0.475},{"g":"S","x":0.59,"y":0.57},{"g":"S","x":0.605,"y":0.445},{"g":"S","x":0.65,"y":0.615},{"g":"S","x":0.66,"y":0.49},{"g":"S","x":0.67,"y":0.83},{"g":"S","x":0.74,"y":0.52},{"g":"S","x":0.955,"y":0.83},{"g":"S","x":1.12,"y":1.11},
{"g":"E","x":0.015,"y":0.07},{"g":"E","x":0.095,"y":0.235},{"g":"E","x":0.105,"y":0.235},{"g":"E","x":0.135,"y":0.155},{"g":"E","x":0.145,"y":0.16},{"g":"E","x":0.155,"y":0.155},{"g":"E","x":0.19,"y":0.28},{"g":"E","x":0.225,"y":0.175},{"g":"E","x":0.27,"y":0.37},{"g":"E","x":0.295,"y":0.315},{"g":"E","x":0.33,"y":0.47},{"g":"E","x":0.33,"y":0.79},{"g":"E","x":0.34,"y":0.615},{"g":"E","x":0.39,"y":0.58},{"g":"E","x":0.395,"y":0.41},{"g":"E","x":0.405,"y":0.23},{"g":"E","x":0.45,"y":0.52},{"g":"E","x":0.465,"y":0.23},{"g":"E","x":0.52,"y":0.79},{"g":"E","x":0.52,"y":0.42},{"g":"E","x":0.52,"y":0.665},{"g":"E","x":0.56,"y":0.42},{"g":"E","x":0.56,"y":0.52},{"g":"E","x":0.565,"y":1.115},{"g":"E","x":0.64,"y":0.665},{"g":"E","x":0.665,"y":0.675},{"g":"E","x":0.68,"y":0.47},{"g":"E","x":0.685,"y":0.73},{"g":"E","x":0.775,"y":0.915},{"g":"E","x":0.775,"y":0.675},{"g":"E","x":0.79,"y":0.665},{"g":"E","x":0.78,"y":0.615},{"g":"E","x":0.955,"y":0.915},{"g":"E","x":1.35,"y":0.79},{"g":"E","x":1.39,"y":1.11},
{"g":"N","x":0.04,"y":0.47},{"g":"N","x":0.05,"y":0.23},{"g":"N","x":0.055,"y":0.07},{"g":"N","x":0.11,"y":0.175},{"g":"N","x":0.16,"y":0.23},{"g":"N","x":0.205,"y":0.145},{"g":"N","x":0.225,"y":0.07},{"g":"N","x":0.255,"y":0.315},{"g":"N","x":0.285,"y":0.155},{"g":"N","x":0.295,"y":0.155},{"g":"N","x":0.35,"y":0.53},{"g":"N","x":0.375,"y":0.61},{"g":"N","x":0.385,"y":0.29},{"g":"N","x":0.39,"y":0.31},{"g":"N","x":0.385,"y":0.24},{"g":"N","x":0.47,"y":0.425},{"g":"N","x":0.475,"y":0.145},{"g":"N","x":0.475,"y":0.67},{"g":"N","x":0.495,"y":0.23},{"g":"N","x":0.51,"y":0.28},{"g":"N","x":0.525,"y":0.37},{"g":"N","x":0.53,"y":0.83},{"g":"N","x":0.555,"y":0.24},{"g":"N","x":0.575,"y":0.665},{"g":"N","x":0.585,"y":0.175},{"g":"N","x":0.69,"y":0.59},{"g":"N","x":0.695,"y":0.92},{"g":"N","x":0.695,"y":0.525},{"g":"N","x":0.755,"y":0.715},{"g":"N","x":0.755,"y":0.61},{"g":"N","x":0.765,"y":0.42},{"g":"N","x":0.78,"y":0.41},{"g":"N","x":0.85,"y":1.115},{"g":"N","x":0.86,"y":0.715},{"g":"N","x":0.885,"y":0.915},{"g":"N","x":1.07,"y":0.47},{"g":"N","x":1.2,"y":0.775},{"g":"N","x":1.5,"y":0.83},{"g":"N","x":1.573,"y":1.11},{"g":"N","x":1.573,"y":0.83},
{"g":"D","x":0.04,"y":0.165},{"g":"D","x":0.11,"y":0.18},{"g":"D","x":0.135,"y":0.335},{"g":"D","x":0.145,"y":0.245},{"g":"D","x":0.17,"y":0.29},{"g":"D","x":0.27,"y":0.245},{"g":"D","x":0.34,"y":0.495},{"g":"D","x":0.36,"y":0.575},{"g":"D","x":0.365,"y":0.33},{"g":"D","x":0.415,"y":0.65},{"g":"D","x":0.43,"y":0.29},{"g":"D","x":0.44,"y":1.115},{"g":"D","x":0.44,"y":0.165},{"g":"D","x":0.47,"y":0.285},{"g":"D","x":0.5,"y":0.335},{"g":"D","x":0.525,"y":0.5},{"g":"D","x":0.525,"y":0.1},{"g":"D","x":0.59,"y":0.715},{"g":"D","x":0.64,"y":0.1},{"g":"D","x":0.66,"y":0.715},{"g":"D","x":0.66,"y":0.245},{"g":"D","x":0.695,"y":0.855},{"g":"D","x":0.76,"y":0.93},{"g":"D","x":0.85,"y":0.885},{"g":"D","x":0.85,"y":0.65},{"g":"D","x":0.875,"y":0.495},{"g":"D","x":0.855,"y":0.375},{"g":"D","x":0.955,"y":1.04},{"g":"D","x":1.085,"y":1.04},{"g":"D","x":1.11,"y":1.005},{"g":"D","x":1.14,"y":1.005},{"g":"D","x":1.23,"y":0.86},{"g":"D","x":1.27,"y":1.02},{"g":"D","x":1.375,"y":1.04},
{"g":"B","x":0.065,"y":0.42},{"g":"B","x":0.07,"y":0.5},{"g":"B","x":0.125,"y":0.535},{"g":"B","x":0.195,"y":0.72},{"g":"B","x":0.195,"y":0.625},{"g":"B","x":0.295,"y":0.755},{"g":"B","x":0.31,"y":0.52},{"g":"B","x":0.36,"y":0.72},{"g":"B","x":0.375,"y":0.52},{"g":"B","x":0.41,"y":0.865},{"g":"B","x":0.41,"y":0.5},{"g":"B","x":0.475,"y":0.67},{"g":"B","x":0.525,"y":0.59},{"g":"B","x":0.525,"y":0.535},{"g":"B","x":0.555,"y":1.05},{"g":"B","x":0.555,"y":0.59},{"g":"B","x":0.585,"y":0.73},{"g":"B","x":0.595,"y":0.955},{"g":"B","x":0.66,"y":0.955},{"g":"B","x":0.675,"y":0.865},{"g":"B","x":0.705,"y":0.52},{"g":"B","x":0.715,"y":0.81},{"g":"B","x":0.755,"y":0.625},{"g":"B","x":0.815,"y":1.05},{"g":"B","x":0.805,"y":0.81},{"g":"B","x":0.82,"y":0.81},{"g":"B","x":0.835,"y":0.955},{"g":"B","x":0.85,"y":0.81},{"g":"B","x":0.86,"y":0.67},{"g":"B","x":0.87,"y":0.755},{"g":"B","x":0.885,"y":0.955},{"g":"B","x":0.965,"y":1.075},{"g":"B","x":1.05,"y":0.73},{"g":"B","x":1.08,"y":0.94},{"g":"B","x":1.085,"y":1.04},{"g":"B","x":1.19,"y":1.14},{"g":"B","x":1.21,"y":1.095},{"g":"B","x":1.3,"y":1.14},{"g":"B","x":1.385,"y":0.94},{"g":"B","x":0.08,"y":1.577},{"g":"B","x":1.573,"y":1.065},
{"g":"G","x":1,"y":1.17},{"g":"G","x":1,"y":1.11},{"g":"G","x":1,"y":1.08},{"g":"G","x":1,"y":1.05},{"g":"G","x":1,"y":1.03},{"g":"G","x":1,"y":1.01},{"g":"G","x":1,"y":0.99},{"g":"G","x":1,"y":0.97},{"g":"G","x":1,"y":0.95},{"g":"G","x":1,"y":0.93},{"g":"G","x":1,"y":0.91},{"g":"G","x":1,"y":0.885},{"g":"G","x":1,"y":0.83},{"g":"G","x":1,"y":1.577}
],
"a4":[
{"g":"S","x":0.055,"y":0.195},{"g":"S","x":0.075,"y":0.115},{"g":"S","x":0.175,"y":0.28},{"g":"S","x":0.17,"y":0.115},{"g":"S","x":0.24,"y":0.115},{"g":"S","x":0.26,"y":0.37},{"g":"S","x":0.27,"y":0.29},{"g":"S","x":0.33,"y":0.375},{"g":"S","x":0.36,"y":0.44},{"g":"S","x":0.435,"y":0.35},{"g":"S","x":0.44,"y":0.475},{"g":"S","x":0.515,"y":0.595},{"g":"S","x":0.54,"y":0.61},{"g":"S","x":0.54,"y":0.485},{"g":"S","x":0.645,"y":0.61},{"g":"S","x":0.78,"y":0.59},{"g":"S","x":0.805,"y":0.485},{"g":"S","x":0.405,"y":0.505},{"g":"S","x":0.065,"y":0.19},{"g":"S","x":0.525,"y":1.11},{"g":"S","x":1.35,"y":1.12},{"g":"S","x":1.42,"y":1.115},{"g":"S","x":1.46,"y":1.12},
{"g":"E","x":0.035,"y":0.19},{"g":"E","x":0.05,"y":0.125},{"g":"E","x":0.11,"y":0.42},{"g":"E","x":0.115,"y":0.21},{"g":"E","x":0.16,"y":0.375},{"g":"E","x":0.195,"y":0.13},{"g":"E","x":0.205,"y":0.125},{"g":"E","x":0.265,"y":0.19},{"g":"E","x":0.27,"y":0.365},{"g":"E","x":0.31,"y":0.28},{"g":"E","x":0.33,"y":0.3},{"g":"E","x":0.375,"y":0.455},{"g":"E","x":0.4,"y":0.365},{"g":"E","x":0.43,"y":0.68},{"g":"E","x":0.475,"y":0.455},{"g":"E","x":0.52,"y":0.49},{"g":"E","x":0.57,"y":0.57},{"g":"E","x":0.59,"y":0.62},{"g":"E","x":0.655,"y":0.57},{"g":"E","x":0.665,"y":0.62},{"g":"E","x":0.825,"y":0.68},{"g":"E","x":0.135,"y":0.21},{"g":"E","x":0.14,"y":0.125},{"g":"E","x":0.45,"y":1.11},{"g":"E","x":1.17,"y":1.12},{"g":"E","x":1.445,"y":1.12},{"g":"E","x":1.485,"y":1.11},
{"g":"N","x":0.09,"y":0.13},{"g":"N","x":0.125,"y":0.21},{"g":"N","x":0.165,"y":0.29},{"g":"N","x":0.2,"y":0.42},{"g":"N","x":0.225,"y":0.28},{"g":"N","x":0.28,"y":0.125},{"g":"N","x":0.315,"y":0.365},{"g":"N","x":0.34,"y":0.21},{"g":"N","x":0.35,"y":0.68},{"g":"N","x":0.345,"y":0.455},{"g":"N","x":0.41,"y":0.37},{"g":"N","x":0.48,"y":0.19},{"g":"N","x":0.485,"y":0.125},{"g":"N","x":0.545,"y":0.275},{"g":"N","x":0.575,"y":0.48},{"g":"N","x":0.6,"y":0.485},{"g":"N","x":0.64,"y":0.565},{"g":"N","x":0.675,"y":0.365},{"g":"N","x":0.76,"y":0.275},{"g":"N","x":0.815,"y":0.565},{"g":"N","x":0.94,"y":0.62},{"g":"N","x":1.23,"y":0.68},{"g":"N","x":0.59,"y":1.11},{"g":"N","x":1.03,"y":1.11},{"g":"N","x":1.245,"y":1.12},
{"g":"D","x":0.01,"y":0.135},{"g":"D","x":0.13,"y":0.375},{"g":"D","x":0.165,"y":0.455},{"g":"D","x":0.235,"y":0.28},{"g":"D","x":0.28,"y":0.375},{"g":"D","x":0.31,"y":0.31},{"g":"D","x":0.345,"y":0.2},{"g":"D","x":0.37,"y":0.29},{"g":"D","x":0.375,"y":0.49},{"g":"D","x":0.425,"y":0.29},{"g":"D","x":0.435,"y":0.275},{"g":"D","x":0.46,"y":0.775},{"g":"D","x":0.515,"y":0.455},{"g":"D","x":0.535,"y":0.225},{"g":"D","x":0.53,"y":0.125},{"g":"D","x":0.565,"y":0.455},{"g":"D","x":0.615,"y":0.635},{"g":"D","x":0.635,"y":0.375},{"g":"D","x":0.705,"y":0.655},{"g":"D","x":0.74,"y":0.49},{"g":"D","x":0.785,"y":0.625},{"g":"D","x":0.855,"y":0.125},{"g":"D","x":1.005,"y":0.655},{"g":"D","x":1.08,"y":0.2},{"g":"D","x":1.245,"y":0.775},{"g":"D","x":0.715,"y":1.12},{"g":"D","x":1.1,"y":1.11},{"g":"D","x":1.33,"y":1.12},
{"g":"B","x":0.455,"y":1.06},{"g":"B","x":0.69,"y":0.995},{"g":"B","x":0.73,"y":0.995},{"g":"B","x":0.68,"y":0.885},{"g":"B","x":0.7,"y":0.79},{"g":"B","x":0.84,"y":0.885},{"g":"B","x":0.88,"y":0.79},{"g":"B","x":0.025,"y":0.385},{"g":"B","x":0.09,"y":0.275},{"g":"B","x":0.2,"y":0.36},{"g":"B","x":0.225,"y":0.3},{"g":"B","x":0.225,"y":0.205},{"g":"B","x":0.26,"y":0.475},{"g":"B","x":0.29,"y":0.205},{"g":"B","x":0.32,"y":0.365},{"g":"B","x":0.38,"y":0.54},{"g":"B","x":0.385,"y":0.39},{"g":"B","x":0.445,"y":0.59},{"g":"B","x":0.47,"y":0.54},{"g":"B","x":0.525,"y":0.635},{"g":"B","x":0.57,"y":0.59},{"g":"B","x":0.645,"y":0.475},{"g":"B","x":0.725,"y":0.275},{"g":"B","x":0.75,"y":0.385},{"g":"B","x":0.77,"y":0.3},{"g":"B","x":1.09,"y":0.635},{"g":"B","x":0.195,"y":0.29},{"g":"B","x":0.41,"y":1.11},{"g":"B","x":0.74,"y":1.11},{"g":"B","x":1.573,"y":1.115},
{"g":"G","x":1,"y":1.055},{"g":"G","x":1,"y":1.03},{"g":"G","x":1,"y":1.01},{"g":"G","x":1,"y":0.99},{"g":"G","x":1,"y":0.97},{"g":"G","x":1,"y":0.95},{"g":"G","x":1,"y":0.93},{"g":"G","x":1,"y":0.91},{"g":"G","x":1,"y":0.885},{"g":"G","x":1,"y":1.577}
],
"b1":[
{"g":"S","x":0.055,"y":0.18},{"g":"S","x":0.095,"y":0.18},{"g":"S","x":0.075,"y":0.115},{"g":"S","x":0.105,"y":0.065},{"g":"S","x":0.12,"y":0.12},{"g":"S","x":0.15,"y":0.31},{"g":"S","x":0.19,"y":0.25},{"g":"S","x":0.205,"y":0.33},{"g":"S","x":0.225,"y":0.25},{"g":"S","x":0.235,"y":0.34},{"g":"S","x":0.255,"y":0.205},{"g":"S","x":0.265,"y":0.205},{"g":"S","x":0.27,"y":0.25},{"g":"S","x":0.29,"y":0.455},{"g":"S","x":0.285,"y":0.415},{"g":"S","x":0.32,"y":0.33},{"g":"S","x":0.335,"y":0.31},{"g":"S","x":0.34,"y":0.36},{"g":"S","x":0.395,"y":0.415},{"g":"S","x":0.435,"y":0.31},{"g":"S","x":0.455,"y":0.605},{"g":"S","x":0.48,"y":0.605},{"g":"S","x":0.46,"y":0.34},{"g":"S","x":0.7,"y":0.455},{"g":"S","x":0.17,"y":0.27},
{"g":"E","x":0.065,"y":0.235},{"g":"E","x":0.095,"y":0.13},{"g":"E","x":0.16,"y":0.27},{"g":"E","x":0.16,"y":0.235},{"g":"E","x":0.215,"y":0.49},{"g":"E","x":0.235,"y":0.47},{"g":"E","x":0.255,"y":0.4},{"g":"E","x":0.24,"y":0.345},{"g":"E","x":0.27,"y":0.345},{"g":"E","x":0.31,"y":0.35},{"g":"E","x":0.325,"y":0.405},{"g":"E","x":0.33,"y":0.27},{"g":"E","x":0.355,"y":0.47},{"g":"E","x":0.375,"y":0.31},{"g":"E","x":0.425,"y":0.47},{"g":"E","x":0.43,"y":0.57},{"g":"E","x":0.465,"y":0.635},{"g":"E","x":0.485,"y":0.62},{"g":"E","x":0.515,"y":0.57},{"g":"E","x":0.52,"y":0.49},{"g":"E","x":0.57,"y":0.64},{"g":"E","x":0.67,"y":0.62},{"g":"E","x":0.775,"y":0.47},{"g":"E","x":0.735,"y":0.635},{"g":"E","x":0.28,"y":0.33},
{"g":"N","x":0.18,"y":0.13},{"g":"N","x":0.18,"y":0.24},{"g":"N","x":0.24,"y":0.27},{"g":"N","x":0.265,"y":0.32},{"g":"N","x":0.29,"y":0.13},{"g":"N","x":0.3,"y":0.47},{"g":"N","x":0.325,"y":0.405},{"g":"N","x":0.36,"y":0.5},{"g":"N","x":0.385,"y":0.44},{"g":"N","x":0.39,"y":0.27},{"g":"N","x":0.415,"y":0.47},{"g":"N","x":0.425,"y":0.355},{"g":"N","x":0.44,"y":0.355},{"g":"N","x":0.455,"y":0.355},{"g":"N","x":0.49,"y":0.655},{"g":"N","x":0.54,"y":0.44},{"g":"N","x":0.54,"y":0.64},{"g":"N","x":0.55,"y":0.56},{"g":"N","x":0.775,"y":0.64},{"g":"N","x":0.765,"y":0.62},{"g":"N","x":0.785,"y":0.65},{"g":"N","x":0.82,"y":0.475},{"g":"N","x":0.855,"y":0.62},{"g":"N","x":0.74,"y":0.475},{"g":"N","x":1.27,"y":0.89},{"g":"N","x":1.48,"y":0.89},
{"g":"D","x":0.16,"y":0.47},{"g":"D","x":0.18,"y":0.32},{"g":"D","x":0.14,"y":0.15},{"g":"D","x":0.255,"y":0.29},{"g":"D","x":0.43,"y":0.96},{"g":"D","x":0.48,"y":0.71},{"g":"D","x":0.48,"y":0.47},{"g":"D","x":0.51,"y":0.71},{"g":"D","x":0.59,"y":0.74},{"g":"D","x":0.605,"y":0.71},{"g":"D","x":0.61,"y":0.32},{"g":"D","x":0.68,"y":0.15},{"g":"D","x":0.795,"y":0.51},{"g":"D","x":0.8,"y":0.29},{"g":"D","x":0.785,"y":0.635},{"g":"D","x":0.88,"y":0.8},{"g":"D","x":0.945,"y":0.79},{"g":"D","x":0.975,"y":0.895},{"g":"D","x":1.07,"y":0.96},{"g":"D","x":1.07,"y":0.71},{"g":"D","x":1.1,"y":0.895},{"g":"D","x":1.13,"y":0.74},{"g":"D","x":1.33,"y":0.96},{"g":"D","x":1.35,"y":1.18},{"g":"D","x":1.035,"y":0.96},
{"g":"B","x":0.28,"y":0.5},{"g":"B","x":0.445,"y":0.64},{"g":"B","x":0.45,"y":0.845},{"g":"B","x":0.43,"y":0.5},{"g":"B","x":0.51,"y":0.81},{"g":"B","x":0.52,"y":0.79},{"g":"B","x":0.55,"y":0.895},{"g":"B","x":0.58,"y":0.85},{"g":"B","x":0.615,"y":0.665},{"g":"B","x":0.65,"y":0.96},{"g":"B","x":0.735,"y":0.81},{"g":"B","x":0.76,"y":0.865},{"g":"B","x":0.78,"y":0.85},{"g":"B","x":0.795,"y":0.895},{"g":"B","x":0.82,"y":0.865},{"g":"B","x":0.83,"y":0.965},{"g":"B","x":0.845,"y":0.97},{"g":"B","x":0.905,"y":1.0},{"g":"B","x":0.92,"y":0.965},{"g":"B","x":0.96,"y":0.865},{"g":"B","x":1.02,"y":0.97},{"g":"B","x":1.05,"y":0.97},{"g":"B","x":1.07,"y":0.79},{"g":"B","x":1.16,"y":0.965},{"g":"B","x":1.195,"y":1.18},{"g":"B","x":1.455,"y":1.0},{"g":"B","x":0.845,"y":0.865},{"g":"B","x":1.01,"y":0.97},
{"g":"G","x":1,"y":1.18},{"g":"G","x":1,"y":1.03},{"g":"G","x":1,"y":1.01},{"g":"G","x":1,"y":0.99},{"g":"G","x":1,"y":0.97},{"g":"G","x":1,"y":0.95},{"g":"G","x":1,"y":0.93},{"g":"G","x":1,"y":0.92},{"g":"G","x":1,"y":0.855}
],
"b2":[
{"g":"S","x":0.055,"y":0.15},{"g":"S","x":0.115,"y":0.15},{"g":"S","x":0.19,"y":0.23},{"g":"S","x":0.2,"y":0.255},{"g":"S","x":0.21,"y":0.31},{"g":"S","x":0.245,"y":0.31},{"g":"S","x":0.255,"y":0.23},{"g":"S","x":0.41,"y":0.45},
{"g":"E","x":0.075,"y":0.18},{"g":"E","x":0.13,"y":0.18},{"g":"E","x":0.165,"y":0.255},{"g":"E","x":0.195,"y":0.32},{"g":"E","x":0.24,"y":0.335},{"g":"E","x":0.24,"y":0.32},{"g":"E","x":0.295,"y":0.28},{"g":"E","x":0.3,"y":0.32},{"g":"E","x":0.515,"y":0.525},
{"g":"N","x":0,"y":0.05},{"g":"N","x":0.93,"y":0.53},{"g":"N","x":0.65,"y":0.32},{"g":"N","x":0.62,"y":0.32},{"g":"N","x":0.555,"y":0.28},{"g":"N","x":0.465,"y":0.18},{"g":"N","x":0.625,"y":0.18},{"g":"N","x":0.385,"y":0.32},{"g":"N","x":0.28,"y":0.34},{"g":"N","x":0.26,"y":0.28},{"g":"N","x":0.24,"y":0.25},{"g":"N","x":0.275,"y":0.25},
{"g":"D","x":0.125,"y":0.205},{"g":"D","x":0.235,"y":0.055},{"g":"D","x":0.37,"y":0.44},{"g":"D","x":0.37,"y":0.205},{"g":"D","x":0.39,"y":0.335},{"g":"D","x":0.4,"y":0.31},{"g":"D","x":0.525,"y":0.615},{"g":"D","x":0.525,"y":0.44},{"g":"D","x":0.56,"y":0.26},{"g":"D","x":0.615,"y":0.37},{"g":"D","x":0.655,"y":0.055},{"g":"D","x":0.895,"y":0.31},
{"g":"B","x":0.05,"y":0.23},{"g":"B","x":0.3,"y":0.41},{"g":"B","x":0.35,"y":0.41},{"g":"B","x":0.4,"y":0.675},{"g":"B","x":0.45,"y":0.7},{"g":"B","x":0.52,"y":0.545},{"g":"B","x":0.585,"y":0.625},{"g":"B","x":0.72,"y":0.675},{"g":"B","x":0.72,"y":0.625},{"g":"B","x":0.745,"y":0.93},{"g":"B","x":0.8,"y":0.86},{"g":"B","x":0.825,"y":0.86},{"g":"B","x":0.365,"y":0.23},
{"g":"G","x":1,"y":1.03},{"g":"G","x":1,"y":1.01},{"g":"G","x":1,"y":0.99},{"g":"G","x":1,"y":0.98}
],
"b3":[
{"g":"S","x":0.055,"y":0.11},{"g":"S","x":0.13,"y":0.15},{"g":"S","x":0.155,"y":0.18},{"g":"S","x":0.195,"y":0.245},{"g":"S","x":0.22,"y":0.25},{"g":"S","x":0.24,"y":0.22},{"g":"S","x":0.25,"y":0.31},{"g":"S","x":0.255,"y":0.295},{"g":"S","x":0.27,"y":0.44},{"g":"S","x":0.285,"y":0.31},{"g":"S","x":0.31,"y":0.18},{"g":"S","x":0.405,"y":0.44},{"g":"S","x":0.245,"y":0.255},
{"g":"E","x":0.11,"y":0.14},{"g":"E","x":0.17,"y":0.18},{"g":"E","x":0.205,"y":0.155},{"g":"E","x":0.22,"y":0.315},{"g":"E","x":0.245,"y":0.25},{"g":"E","x":0.3,"y":0.335},{"g":"E","x":0.305,"y":0.47},{"g":"E","x":0.355,"y":0.315},{"g":"E","x":0.435,"y":0.18},{"g":"E","x":0.635,"y":0.47},{"g":"E","x":0.265,"y":0.255},
{"g":"N","x":0.095,"y":0.18},{"g":"N","x":0.11,"y":0.18},{"g":"N","x":0.27,"y":0.31},{"g":"N","x":0.295,"y":0.25},{"g":"N","x":0.3,"y":0.15},{"g":"N","x":0.295,"y":0.14},{"g":"N","x":0.37,"y":0.255},{"g":"N","x":0.38,"y":0.335},{"g":"N","x":0.39,"y":0.31},{"g":"N","x":0.405,"y":0.25},{"g":"N","x":0.455,"y":0.47},{"g":"N","x":0.465,"y":0.315},{"g":"N","x":0.6,"y":0.315},{"g":"N","x":1.235,"y":0.47},
{"g":"D","x":0.11,"y":0.19},{"g":"D","x":0.17,"y":0.17},{"g":"D","x":0.26,"y":0.16},{"g":"D","x":0.3,"y":0.26},{"g":"D","x":0.335,"y":0.355},{"g":"D","x":0.415,"y":0.33},{"g":"D","x":0.435,"y":0.265},{"g":"D","x":0.475,"y":0.275},{"g":"D","x":0.56,"y":0.49},{"g":"D","x":0.595,"y":0.49},{"g":"D","x":0.68,"y":0.32},{"g":"D","x":0.695,"y":0.19},{"g":"D","x":0.73,"y":0.32},{"g":"D","x":0.89,"y":0.33},
{"g":"B","x":0.17,"y":0.345},{"g":"B","x":0.305,"y":0.43},{"g":"B","x":0.355,"y":0.775},{"g":"B","x":0.365,"y":0.43},{"g":"B","x":0.35,"y":0.29},{"g":"B","x":0.335,"y":0.29},{"g":"B","x":0.39,"y":0.55},{"g":"B","x":0.475,"y":0.61},{"g":"B","x":0.475,"y":0.3},{"g":"B","x":0.49,"y":0.48},{"g":"B","x":0.56,"y":0.48},{"g":"B","x":0.68,"y":0.775},{"g":"B","x":0.71,"y":0.61},{"g":"B","x":0.8,"y":0.625},{"g":"B","x":0.805,"y":0.645},
{"g":"G","x":1,"y":1.03},{"g":"G","x":1,"y":1.01},{"g":"G","x":1,"y":0.99},{"g":"G","x":1,"y":0.98},{"g":"G","x":1,"y":0.925},{"g":"G","x":1,"y":0.855}
],
"b4":[
{"g":"S","x":0.615,"y":0.605},{"g":"S","x":0.41,"y":0.41},{"g":"S","x":0.55,"y":0.41},{"g":"S","x":0.315,"y":0.355},{"g":"S","x":0.405,"y":0.315},{"g":"S","x":0.15,"y":0.245},{"g":"S","x":0.32,"y":0.315},
{"g":"E","x":0.59,"y":0.605},{"g":"E","x":0.495,"y":0.5},{"g":"E","x":0.565,"y":0.5},{"g":"E","x":0.385,"y":0.355},{"g":"E","x":0.305,"y":0.315},{"g":"E","x":0.36,"y":0.315},{"g":"E","x":0.27,"y":0.245},
{"g":"N","x":0.765,"y":0.605},{"g":"N","x":0.4,"y":0.5},{"g":"N","x":0.53,"y":0.5},{"g":"N","x":0.35,"y":0.315},{"g":"N","x":0.47,"y":0.315},{"g":"N","x":0.175,"y":0.245},{"g":"N","x":0.31,"y":0.245},
{"g":"D","x":0.565,"y":0.605},{"g":"D","x":0.6,"y":0.605},{"g":"D","x":1.0,"y":0.6},{"g":"D","x":0.455,"y":0.355},{"g":"D","x":0.55,"y":0.32},{"g":"D","x":0.615,"y":0.32},{"g":"D","x":0.365,"y":0.245},{"g":"D","x":0.23,"y":0.245},
{"g":"B","x":0.595,"y":0.89},{"g":"B","x":0.71,"y":0.89},{"g":"B","x":0.975,"y":0.605},{"g":"B","x":0.505,"y":0.4},{"g":"B","x":0.555,"y":0.4},{"g":"B","x":0.33,"y":0.365},{"g":"B","x":0.355,"y":0.255},{"g":"B","x":0.26,"y":0.255},
{"g":"G","x":1,"y":1.01},{"g":"G","x":1,"y":0.99},{"g":"G","x":1,"y":0.97},{"g":"G","x":1,"y":0.95},{"g":"G","x":1,"y":0.93}
]
}
}
